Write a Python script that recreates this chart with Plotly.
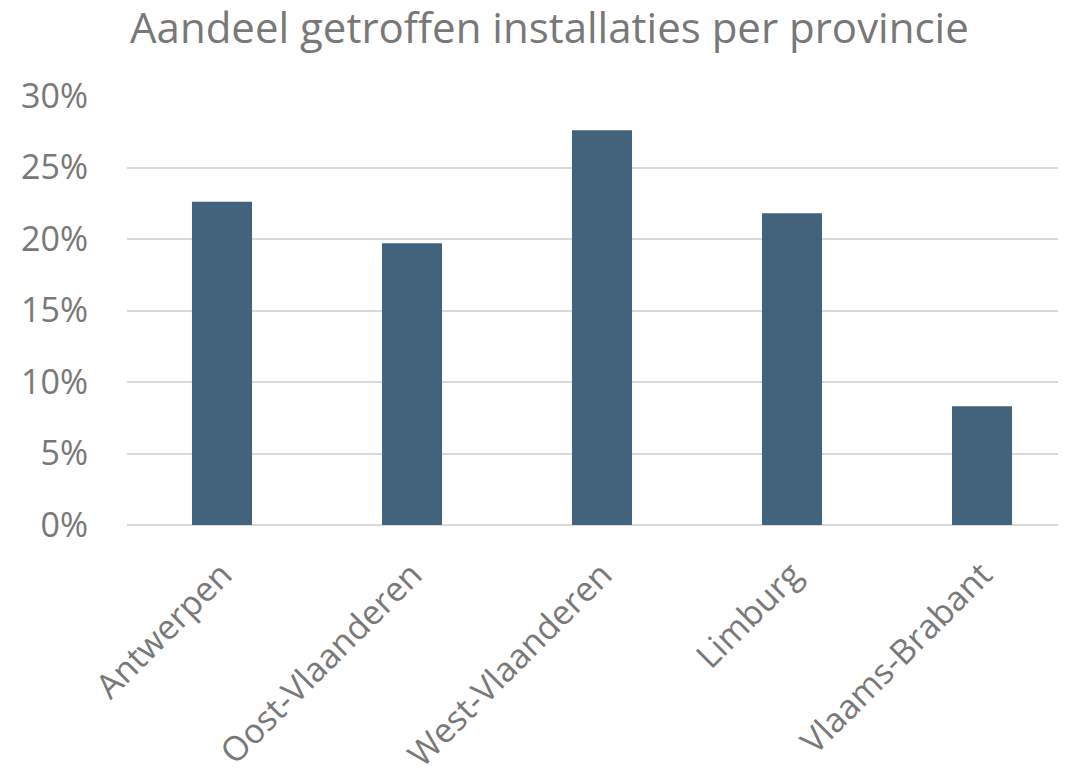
import plotly.graph_objects as go

provinces = ["Antwerpen", "Oost-Vlaanderen", "West-Vlaanderen", "Limburg", "Vlaams-Brabant"]
shares = [0.226, 0.197, 0.276, 0.218, 0.083]

GRAY = "#787878"
FONT = "Open Sans"

fig = go.Figure(go.Bar(
    x=provinces, y=shares, width=0.316,
    marker=dict(color="#43637d", line=dict(width=0)),
))

fig.update_layout(
    width=1058, height=774,
    margin=dict(l=119, r=0, t=88, b=257),
    paper_bgcolor="white", plot_bgcolor="white",
    showlegend=False,
    font=dict(family=FONT, color=GRAY),
    title=dict(
        text="Aandeel getroffen installaties per provincie",
        font=dict(family=FONT, size=42, color=GRAY),
        x=122 / 1058, xanchor="left", xref="container",
        y=1 - 20 / 774, yanchor="middle", yref="container",
    ),
)
fig.update_xaxes(
    range=[-0.5, 4.442],
    tickangle=-45,
    tickfont=dict(family=FONT, size=34, color=GRAY),
    showgrid=False, showline=False, ticks="",
    ticklabelstandoff=22,
)
fig.update_yaxes(
    range=[0, 0.30],
    tickvals=[0, 0.05, 0.10, 0.15, 0.20, 0.25, 0.30],
    tickformat=".0%",
    tickfont=dict(family=FONT, size=34, color=GRAY),
    showgrid=True, gridcolor="#d9d9d9", gridwidth=1.5,
    zeroline=True, zerolinecolor="#d9d9d9", zerolinewidth=1.5,
    showline=False, ticks="",
    ticklabelstandoff=38,
)

fig.write_html("out.html")
